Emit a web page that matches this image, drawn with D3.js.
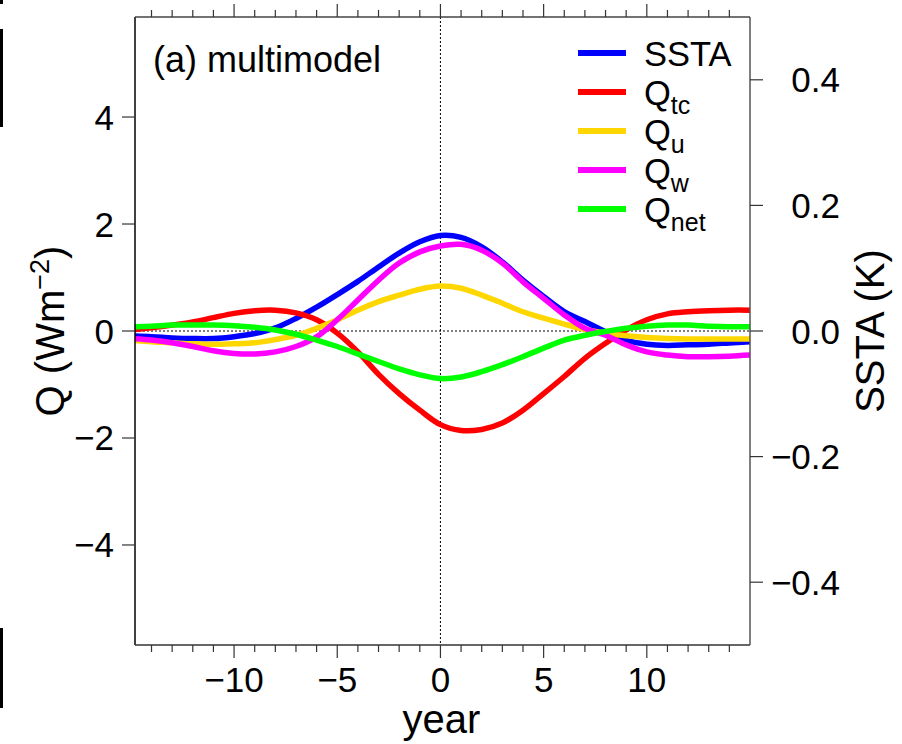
<!DOCTYPE html>
<html>
<head>
<meta charset="utf-8">
<script src="https://cdn.jsdelivr.net/npm/d3@7"></script>
<style>
  body { margin: 0; background: #fff; }
  svg { display: block; font-family: "Liberation Sans", Arial, sans-serif; }
</style>
</head>
<body>
<div id="chart"></div>
<script>
// years of the composite
const years = d3.range(-15, 16);

// SSTA (K), right axis
const ssta = [-0.008, -0.009, -0.011, -0.012, -0.012, -0.009, -0.004, 0.005, 0.020, 0.038,
  0.058, 0.079, 0.102, 0.124, 0.142, 0.152, 0.149, 0.134, 0.110, 0.081,
  0.055, 0.031, 0.015, -0.001, -0.015, -0.021, -0.023, -0.022, -0.021, -0.019, -0.017];

// heat flux terms (W m-2), left axis
const qtc = [0.02, 0.06, 0.11, 0.17, 0.25, 0.33, 0.38, 0.39, 0.34, 0.21,
  -0.04, -0.39, -0.81, -1.17, -1.48, -1.75, -1.86, -1.84, -1.72, -1.48,
  -1.17, -0.85, -0.51, -0.23, 0.02, 0.21, 0.32, 0.36, 0.38, 0.39, 0.39];
const qu = [-0.17, -0.20, -0.22, -0.24, -0.25, -0.24, -0.22, -0.16, -0.08, 0.05,
  0.21, 0.39, 0.55, 0.67, 0.78, 0.84, 0.80, 0.67, 0.52, 0.36,
  0.24, 0.13, 0.03, -0.04, -0.09, -0.12, -0.14, -0.15, -0.15, -0.15, -0.15];
const qw = [-0.14, -0.17, -0.22, -0.29, -0.37, -0.42, -0.43, -0.39, -0.29, -0.11,
  0.21, 0.58, 0.95, 1.27, 1.48, 1.59, 1.62, 1.51, 1.27, 0.92,
  0.61, 0.30, 0.05, -0.08, -0.26, -0.39, -0.45, -0.48, -0.48, -0.47, -0.45];
const qnet = [0.08, 0.09, 0.11, 0.11, 0.11, 0.10, 0.07, 0.02, -0.06, -0.17,
  -0.29, -0.43, -0.57, -0.71, -0.82, -0.89, -0.86, -0.76, -0.63, -0.48,
  -0.32, -0.17, -0.08, -0.01, 0.05, 0.09, 0.11, 0.11, 0.09, 0.08, 0.08];

const xTicks = [-10, -5, 0, 5, 10];
const qTicks = [-4, -2, 0, 2, 4];
const sstaTicks = [-0.4, -0.2, 0.0, 0.2, 0.4];

const W = 902, H = 744;
const pLeft = 135, pRight = 750, pTop = 17, pBottom = 645;

const x = d3.scaleLinear().domain([-14.8, 15]).range([pLeft, pRight]);
const yQ = d3.scaleLinear().domain([-5.87, 5.87]).range([pBottom, pTop]);
const yS = d3.scaleLinear().domain([-0.5, 0.5]).range([pBottom, pTop]);

const svg = d3.select("#chart").append("svg")
    .attr("width", W)
    .attr("height", H);

// cropping remnants at the left edge
svg.append("rect").attr("x", 0).attr("y", 0).attr("width", 3).attr("height", 4).attr("fill", "#000");
svg.append("rect").attr("x", 0).attr("y", 29).attr("width", 3).attr("height", 98).attr("fill", "#000");
svg.append("rect").attr("x", 0).attr("y", 628).attr("width", 3).attr("height", 80).attr("fill", "#000");

svg.append("defs").append("clipPath").attr("id", "plot-clip")
  .append("rect")
    .attr("x", pLeft).attr("y", pTop)
    .attr("width", pRight - pLeft).attr("height", pBottom - pTop);

// zero lines
svg.append("line")
    .attr("x1", x(0)).attr("x2", x(0))
    .attr("y1", pTop).attr("y2", pBottom)
    .attr("stroke", "#000").attr("stroke-width", 1)
    .attr("stroke-dasharray", "2,2");
svg.append("line")
    .attr("x1", pLeft).attr("x2", pRight)
    .attr("y1", yQ(0)).attr("y2", yQ(0))
    .attr("stroke", "#000").attr("stroke-width", 1)
    .attr("stroke-dasharray", "2,2");

// curves
const series = [
  { key: "SSTA", values: ssta, color: "#0000ff", scale: yS },
  { key: "Qtc", values: qtc, color: "#ff0000", scale: yQ },
  { key: "Qu", values: qu, color: "#ffd700", scale: yQ },
  { key: "Qw", values: qw, color: "#ff00ff", scale: yQ },
  { key: "Qnet", values: qnet, color: "#00ff00", scale: yQ }
];

const plot = svg.append("g").attr("clip-path", "url(#plot-clip)");
series.forEach(s => {
  const line = d3.line()
      .x((d, i) => x(years[i]))
      .y(d => s.scale(d))
      .curve(d3.curveCatmullRom);
  plot.append("path")
      .attr("d", line(s.values))
      .attr("fill", "none")
      .attr("stroke", s.color)
      .attr("stroke-width", 5.5)
      .attr("stroke-linejoin", "round");
});

// frame
svg.append("line").attr("x1", pLeft).attr("x2", pLeft).attr("y1", pTop).attr("y2", pBottom)
    .attr("stroke", "#000").attr("stroke-width", 1.5);
svg.append("line").attr("x1", pLeft).attr("x2", pRight).attr("y1", pBottom).attr("y2", pBottom)
    .attr("stroke", "#333").attr("stroke-width", 1.5);
svg.append("line").attr("x1", pRight).attr("x2", pRight).attr("y1", pTop).attr("y2", pBottom)
    .attr("stroke", "#555").attr("stroke-width", 1.5);
svg.append("line").attr("x1", pLeft).attr("x2", pRight).attr("y1", pTop).attr("y2", pTop)
    .attr("stroke", "#444").attr("stroke-width", 1.5);

// bottom and top ticks
const minor = d3.range(-14, 15).filter(d => !xTicks.includes(d));
const tickColor = "#333";
const xAxisBottom = svg.append("g").attr("transform", `translate(0,${pBottom})`);
const xAxisTop = svg.append("g").attr("transform", `translate(0,${pTop})`);
[[xAxisBottom, 1], [xAxisTop, -1]].forEach(([g, dir]) => {
  g.selectAll(".minor").data(minor).enter().append("line")
      .attr("x1", d => x(d)).attr("x2", d => x(d))
      .attr("y1", 0).attr("y2", dir * 7)
      .attr("stroke", tickColor).attr("stroke-width", 1.2);
  g.selectAll(".major").data(xTicks).enter().append("line")
      .attr("x1", d => x(d)).attr("x2", d => x(d))
      .attr("y1", 0).attr("y2", dir * 13)
      .attr("stroke", tickColor).attr("stroke-width", 1.2);
});
xAxisBottom.selectAll(".lab").data(xTicks).enter().append("text")
    .attr("x", d => x(d))
    .attr("y", 47)
    .attr("text-anchor", "middle")
    .style("font-size", "35px")
    .style("fill", "#000")
    .text(d => d < 0 ? "\u2212" + Math.abs(d) : d);

// left axis
const yAxisLeft = svg.append("g");
yAxisLeft.selectAll("line").data(qTicks).enter().append("line")
    .attr("x1", pLeft - 13).attr("x2", pLeft)
    .attr("y1", d => yQ(d)).attr("y2", d => yQ(d))
    .attr("stroke", tickColor).attr("stroke-width", 1.2);
yAxisLeft.selectAll("text").data(qTicks).enter().append("text")
    .attr("x", 114)
    .attr("y", d => yQ(d) + 12.5)
    .attr("text-anchor", "end")
    .style("font-size", "35px")
    .style("fill", "#000")
    .text(d => d < 0 ? "\u2212" + Math.abs(d) : d);

// right axis
const yAxisRight = svg.append("g");
yAxisRight.selectAll("line").data(sstaTicks).enter().append("line")
    .attr("x1", pRight).attr("x2", pRight + 13)
    .attr("y1", d => yS(d)).attr("y2", d => yS(d))
    .attr("stroke", tickColor).attr("stroke-width", 1.2);
yAxisRight.selectAll("text").data(sstaTicks).enter().append("text")
    .attr("x", 840)
    .attr("y", d => yS(d) + 12.5)
    .attr("text-anchor", "end")
    .style("font-size", "35px")
    .style("fill", "#000")
    .text(d => d < 0 ? "\u2212" + Math.abs(d).toFixed(1) : d.toFixed(1));

// axis titles
svg.append("text")
    .attr("x", (pLeft + pRight) / 2 - 1)
    .attr("y", 733)
    .attr("text-anchor", "middle")
    .style("font-size", "40px")
    .text("year");

const qLabel = svg.append("text")
    .attr("transform", `translate(64,${yQ(0)}) rotate(-90)`)
    .attr("text-anchor", "middle")
    .style("font-size", "40px");
qLabel.append("tspan").text("Q (Wm");
qLabel.append("tspan").attr("dy", -15).style("font-size", "27px").text("\u22122");
qLabel.append("tspan").attr("dy", 15).text(")");

svg.append("text")
    .attr("transform", `translate(884,${yS(0)}) rotate(-90)`)
    .attr("text-anchor", "middle")
    .style("font-size", "40px")
    .text("SSTA (K)");

// panel title
svg.append("text")
    .attr("x", 153)
    .attr("y", 72)
    .style("font-size", "36px")
    .text("(a) multimodel");

// legend
const legendItems = [
  { main: "SSTA", sub: "" },
  { main: "Q", sub: "tc" },
  { main: "Q", sub: "u" },
  { main: "Q", sub: "w" },
  { main: "Q", sub: "net" }
];
const legend = svg.append("g");
legendItems.forEach((item, i) => {
  const ly = 53 + i * 39;
  legend.append("line")
      .attr("x1", 578).attr("x2", 626)
      .attr("y1", ly).attr("y2", ly)
      .attr("stroke", series[i].color)
      .attr("stroke-width", 6);
  const t = legend.append("text")
      .attr("x", 644)
      .attr("y", ly + 12.5)
      .style("font-size", "34.5px");
  t.append("tspan").text(item.main);
  if (item.sub) {
    t.append("tspan").attr("dy", 9).style("font-size", "25px").text(item.sub);
  }
});
</script>
</body>
</html>
